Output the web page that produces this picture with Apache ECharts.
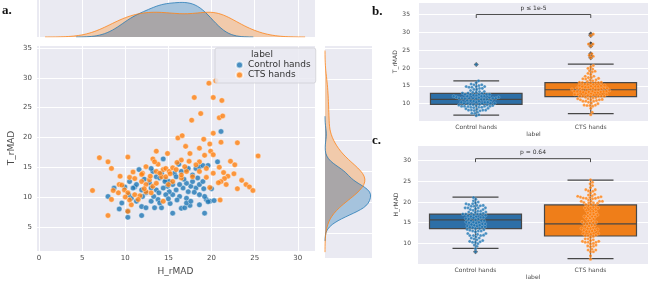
<!DOCTYPE html>
<html>
<head>
<meta charset="utf-8">
<script src="https://cdn.jsdelivr.net/npm/echarts@6/dist/echarts.min.js"></script>
<style>
html, body { margin: 0; padding: 0; background: #fff; }
#chart { width: 650px; height: 281px; }
</style>
</head>
<body>
<div id="chart"></div>
<script>
const groups = ['Control hands', 'CTS hands'];

// [H_rMAD, T_rMAD] per hand
const ctrlPts = [
  [8.7, 11.5], [8.0, 10.1], [9.6, 9.0], [9.3, 8.0], [10.3, 7.6], [10.3, 6.6], [9.95, 11.7], [11.1, 11.7],
  [11.9, 6.9], [11.9, 8.4], [12.4, 8.2], [13.4, 8.2], [14.2, 8.2], [13.0, 9.3], [13.8, 9.6], [15.5, 7.3],
  [16.5, 8.1], [16.9, 8.2], [17.5, 8.6], [19.2, 7.3], [18.6, 8.7], [19.4, 9.6], [19.8, 9.3], [20.3, 9.4],
  [19.2, 10.1], [18.6, 10.4], [17.1, 9.8], [16.3, 10.1], [15.5, 10.4], [15.1, 10.9], [15.9, 11.2], [16.7, 11.5],
  [17.3, 10.9], [17.6, 11.8], [18.2, 11.5], [18.6, 12.1], [19.0, 12.6], [17.8, 12.6], [17.1, 12.3], [16.3, 12.1],
  [15.5, 12.1], [14.9, 11.8], [14.4, 11.5], [13.6, 11.2], [13.0, 11.5], [12.4, 10.7], [11.9, 11.2], [11.3, 12.1],
  [10.9, 11.5], [10.5, 12.6], [12.0, 10.1], [11.3, 9.3], [10.7, 9.8], [13.6, 13.4], [14.0, 13.2], [13.2, 14.3],
  [13.0, 14.8], [14.2, 14.0], [14.7, 12.9], [15.1, 12.6], [15.7, 14.0], [16.5, 14.3], [17.1, 14.6], [17.3, 14.8],
  [17.8, 13.7], [18.2, 14.8], [18.6, 15.1], [19.0, 15.3], [19.6, 15.3], [20.7, 15.9], [14.4, 16.4], [14.6, 12.6],
  [15.9, 13.4], [17.1, 9.0], [17.6, 9.3], [14.7, 10.4], [13.9, 10.7], [21.1, 21.0], [19.1, 11.4], [20.0, 11.4],
  [19.6, 9.2], [12.8, 12.4], [16.0, 9.5], [18.0, 10.8], [15.2, 8.9], [12.2, 13.0], [16.8, 13.0], [14.0, 9.0],
  [10.4, 10.4], [11.6, 14.6], [16.2, 15.5], [18.4, 13.2], [13.3, 10.1], [15.0, 9.7]
];
const ctsPts = [
  [19.7, 29.1], [20.5, 29.5], [18.0, 26.7], [20.2, 26.7], [21.2, 26.2], [17.7, 22.9], [18.75, 24.0], [20.9, 23.3],
  [21.3, 23.6], [16.1, 19.9], [16.6, 20.3], [20.2, 20.7], [19.1, 19.7], [17.0, 18.5], [19.8, 18.9], [21.1, 19.2],
  [23.0, 19.1], [18.6, 18.2], [19.9, 17.7], [25.4, 16.9], [20.2, 17.1], [19.2, 17.0], [17.5, 17.3], [13.6, 17.7],
  [10.3, 16.7], [7.0, 16.6], [8.0, 15.9], [13.2, 16.4], [14.9, 17.3], [16.5, 16.2], [18.6, 15.9], [22.2, 16.0],
  [22.7, 15.4], [21.4, 14.1], [20.2, 14.0], [21.9, 13.5], [21.5, 13.1], [21.1, 12.6], [20.8, 12.4], [23.5, 12.8],
  [24.0, 12.1], [24.4, 11.7], [24.8, 11.1], [21.7, 12.1], [23.0, 11.4], [19.8, 11.6], [21.0, 9.5], [8.4, 14.8],
  [10.9, 14.2], [10.5, 13.3], [11.1, 13.1], [12.0, 14.0], [12.4, 15.1], [13.6, 14.3], [14.4, 14.6], [14.7, 14.8],
  [15.1, 14.3], [15.5, 14.9], [15.9, 14.6], [14.2, 13.4], [12.8, 12.9], [11.9, 12.6], [12.4, 12.1], [13.2, 11.8],
  [13.6, 12.3], [9.3, 12.1], [9.9, 11.2], [9.2, 10.7], [10.3, 10.7], [11.1, 10.4], [11.7, 10.2], [12.4, 10.9],
  [13.0, 10.7], [11.5, 9.6], [10.7, 8.7], [8.4, 9.6], [6.2, 11.1], [8.0, 6.9], [10.3, 7.6], [14.4, 9.3],
  [15.5, 12.6], [16.5, 13.2], [17.1, 14.3], [17.8, 13.4], [18.6, 14.3], [19.4, 14.8], [18.2, 15.4], [13.8, 15.5],
  [16.9, 15.1], [16.5, 13.7], [14.7, 13.4], [9.6, 12.0], [8.6, 11.1], [10.5, 9.5], [11.9, 13.8], [14.0, 14.0],
  [15.2, 13.9], [12.9, 13.5], [10.0, 10.0], [12.2, 11.4], [16.0, 15.8], [15.0, 12.1], [17.4, 16.0], [20.9, 15.0],
  [22.6, 13.9], [9.4, 13.5], [13.4, 15.9], [19.4, 13.3]
];

const boxT = [[6.8, 9.8, 11.2, 12.9, 16.4], [7.2, 12.0, 13.9, 15.9, 21.1]];
const boxH = [[8.8, 13.6, 15.7, 17.1, 21.2], [6.3, 11.8, 14.75, 19.3, 25.3]];
const pText = ['p ≤ 1e-5', 'p = 0.64'];
const pLevel = [35, 30.5];

const BLUE = '#1f77b4', ORANGE = '#ff7f0e';
const BOXCOL = ['#2d6fa7', '#ef7e19'];
const BG = '#eaeaf2';
const FONT = 'DejaVu Sans';
const TXT = '#4a4a4a';

// layout
const gMain = { left: 36, top: 45, width: 279, height: 213 };
const gTop = { left: 36, top: 0, width: 279, height: 37 };
const gRight = { left: 325, top: 45, width: 47, height: 213 };
const gB = { left: 419, top: 2, width: 229, height: 119.5 };
const gC = { left: 418, top: 145, width: 230, height: 121 };
const xRange = [-0.35, 32], yRange = [0.95, 35.5];
const bRange = [5, 38.5], cRange = [5, 33.8];

function gaussKde(vals, weight, grid) {
  const n = vals.length;
  const mean = vals.reduce((a, b) => a + b, 0) / n;
  const sd = Math.sqrt(vals.reduce((a, v) => a + (v - mean) ** 2, 0) / (n - 1));
  const h = sd * Math.pow(n, -0.2);
  const lo = Math.min(...vals) - 3 * h, hi = Math.max(...vals) + 3 * h;
  const dens = grid.map(g => weight * vals.reduce((a, v) => a + Math.exp(-0.5 * ((g - v) / h) ** 2), 0) / (n * h * Math.sqrt(2 * Math.PI)));
  return { dens, lo, hi };
}

const evalGrid = [];
for (let g = -2; g <= 40; g += 0.15) evalGrid.push(+g.toFixed(2));
const N = ctrlPts.length + ctsPts.length;
const kdeX = [ctrlPts, ctsPts].map(p => gaussKde(p.map(d => d[0]), p.length / N, evalGrid));
const kdeY = [ctrlPts, ctsPts].map(p => gaussKde(p.map(d => d[1]), p.length / N, evalGrid));
const topMax = Math.max(...kdeX[0].dens, ...kdeX[1].dens);
const rightMax = Math.max(...kdeY[0].dens, ...kdeY[1].dens);

function curve(k, flip) {
  const pts = [];
  evalGrid.forEach((g, i) => {
    if (g >= k.lo && g <= k.hi) pts.push(flip ? [k.dens[i], g] : [g, k.dens[i]]);
  });
  return pts;
}
function overlap(ks, flip) {
  return evalGrid.map((g, i) => {
    const d = Math.min(ks[0].dens[i], ks[1].dens[i]);
    return flip ? [d, g] : [g, d];
  });
}
function closePoly(pts, flip) {
  const a = pts[0], b = pts[pts.length - 1];
  return flip ? [[0, a[1]], ...pts, [0, b[1]]] : [[a[0], 0], ...pts, [b[0], 0]];
}
function areaSeries(xi, yi, pts, flip, fill, z) {
  const poly = closePoly(pts, flip);
  return {
    type: 'custom', xAxisIndex: xi, yAxisIndex: yi, silent: true, clip: true, z: z,
    data: [[0, 0]],
    renderItem: (params, api) => ({
      type: 'polygon',
      shape: { points: poly.map(p => api.coord(p)) },
      style: { fill: fill }
    })
  };
}
function lineSeries(xi, yi, pts, color) {
  return {
    type: 'line', xAxisIndex: xi, yAxisIndex: yi, data: pts, showSymbol: false, silent: true,
    lineStyle: { color: color, width: 1, opacity: 0.75 }, z: 4
  };
}

// beeswarm offsets (in category units) from values, done in pixel space
function swarm(vals, pxPerY, pxPerX, d) {
  const order = vals.map((v, i) => i).sort((a, b) => vals[a] - vals[b]);
  const placed = [];
  const off = new Array(vals.length);
  order.forEach(i => {
    const y = vals[i] * pxPerY;
    const near = placed.filter(p => Math.abs(p[1] - y) < d);
    const cands = [0];
    near.forEach(p => {
      const dx = Math.sqrt(d * d - (p[1] - y) ** 2);
      cands.push(p[0] + dx, p[0] - dx);
    });
    cands.sort((a, b) => Math.abs(a) - Math.abs(b));
    const x = cands.find(c => near.every(p => (p[0] - c) ** 2 + (p[1] - y) ** 2 >= d * d - 1e-6));
    placed.push([x, y]);
    off[i] = x / pxPerX;
  });
  return off;
}

function swarmSeries(xi, yi, grid, range, dim) {
  const ppy = grid.height / (range[1] - range[0]);
  const ppx = grid.width / 2;
  return [ctrlPts, ctsPts].map((pts, gi) => {
    const vals = pts.map(p => p[dim]);
    const off = swarm(vals, ppy, ppx, 2.9);
    return {
      name: groups[gi], type: 'scatter', xAxisIndex: xi, yAxisIndex: yi, z: 4, silent: true,
      symbolSize: 3.1,
      itemStyle: { color: gi ? ORANGE : BLUE, borderColor: 'rgba(255,255,255,0.6)', borderWidth: 0.4 },
      data: vals.map((v, i) => [gi + off[i], v])
    };
  });
}

function flierSeries(xi, yi, stats, dim) {
  const data = [];
  [ctrlPts, ctsPts].forEach((pts, gi) => {
    pts.forEach(p => {
      const v = p[dim];
      if (v > stats[gi][4] + 0.5 || v < stats[gi][0] - 0.5) data.push([gi, v]);
    });
  });
  return {
    type: 'scatter', xAxisIndex: xi, yAxisIndex: yi, z: 3, silent: true,
    symbol: 'diamond', symbolSize: 5, itemStyle: { color: '#3a3a3a', opacity: 0.85 }, data: data
  };
}

function boxSeries(xi, yi, stats) {
  return {
    type: 'custom', xAxisIndex: xi, yAxisIndex: yi, z: 2, silent: true,
    encode: { x: 0, y: [1, 2, 3, 4, 5] },
    data: stats.map((s, i) => [i, ...s]),
    renderItem: (params, api) => {
      const i = api.value(0);
      const ys = [1, 2, 3, 4, 5].map(k => api.coord([i, api.value(k)])[1]);
      const cx = api.coord([i, 0])[0];
      const hb = api.size([0.4, 0])[0];
      const hc = hb / 2;
      const edge = { stroke: '#474747', lineWidth: 1.2 };
      return {
        type: 'group',
        children: [
          { type: 'line', shape: { x1: cx, y1: ys[0], x2: cx, y2: ys[1] }, style: edge },
          { type: 'line', shape: { x1: cx, y1: ys[3], x2: cx, y2: ys[4] }, style: edge },
          { type: 'line', shape: { x1: cx - hc, y1: ys[0], x2: cx + hc, y2: ys[0] }, style: edge },
          { type: 'line', shape: { x1: cx - hc, y1: ys[4], x2: cx + hc, y2: ys[4] }, style: edge },
          { type: 'rect', shape: { x: cx - hb, y: ys[3], width: 2 * hb, height: ys[1] - ys[3] },
            style: { fill: BOXCOL[i], stroke: '#474747', lineWidth: 1.2 } },
          { type: 'line', shape: { x1: cx - hb, y1: ys[2], x2: cx + hb, y2: ys[2] }, style: edge }
        ]
      };
    }
  };
}

function bracketSeries(xi, yi, level, text) {
  return {
    type: 'custom', xAxisIndex: xi, yAxisIndex: yi, z: 5, silent: true,
    data: [[0, level]],
    renderItem: (params, api) => {
      const a = api.coord([0, level]), b = api.coord([1, level]);
      const drop = 3.5;
      return {
        type: 'group',
        children: [
          { type: 'polyline', shape: { points: [[a[0], a[1] + drop], a, b, [b[0], b[1] + drop]] },
            style: { stroke: '#4d4d4d', lineWidth: 1, fill: null } },
          { type: 'text', style: { text: text, x: (a[0] + b[0]) / 2, y: a[1] - 3, textAlign: 'center',
            textVerticalAlign: 'bottom', font: '6px ' + FONT, fill: '#333' } }
        ]
      };
    }
  };
}

const tickFmt = v => (Math.abs(v % 5) < 1e-6 && v > -0.01 ? String(v) : '');
const white = { lineStyle: { color: '#fff', width: 1 } };
const noAxis = { axisLine: { show: false }, axisTick: { show: false } };

const option = {
  animation: false,
  backgroundColor: '#fff',
  textStyle: { fontFamily: FONT },
  grid: [gMain, gTop, gRight, gB, gC].map(g => Object.assign({ show: true, backgroundColor: BG, borderWidth: 0, containLabel: false }, g)),
  legend: {
    data: groups, orient: 'vertical', left: 215, top: 48,
    icon: 'circle', itemWidth: 7, itemHeight: 7, itemGap: 0,
    padding: [12, 5, 3, 20],
    backgroundColor: 'rgba(234,234,242,0.85)', borderColor: '#cfcfd6', borderWidth: 0.8, borderRadius: 2,
    textStyle: { fontSize: 9, lineHeight: 10, color: '#333', fontFamily: FONT },
    selectedMode: false
  },
  xAxis: [
    Object.assign({ type: 'value', gridIndex: 0, min: xRange[0], max: xRange[1], splitNumber: 6,
      name: 'H_rMAD', nameLocation: 'middle', nameGap: 16,
      nameTextStyle: { fontSize: 9, color: TXT, fontFamily: FONT },
      axisLabel: { fontSize: 7, color: TXT, margin: 4, formatter: tickFmt, showMaxLabel: false },
      splitLine: white }, noAxis),
    Object.assign({ type: 'value', gridIndex: 1, min: xRange[0], max: xRange[1], splitNumber: 6,
      axisLabel: { show: false }, splitLine: white }, noAxis),
    Object.assign({ type: 'value', gridIndex: 2, min: 0, max: rightMax * 1.03,
      axisLabel: { show: false }, splitLine: { show: false } }, noAxis),
    Object.assign({ type: 'category', gridIndex: 3, data: groups, name: 'label', nameLocation: 'middle', nameGap: 10,
      nameTextStyle: { fontSize: 6, color: TXT, fontFamily: FONT },
      axisLabel: { fontSize: 6, color: TXT, margin: 3 }, splitLine: { show: false } }, noAxis),
    { type: 'value', gridIndex: 3, min: -0.5, max: 1.5, show: false, splitLine: { show: false } },
    Object.assign({ type: 'category', gridIndex: 4, data: groups, name: 'label', nameLocation: 'middle', nameGap: 9,
      nameTextStyle: { fontSize: 6, color: TXT, fontFamily: FONT },
      axisLabel: { fontSize: 6, color: TXT, margin: 3 }, splitLine: { show: false } }, noAxis),
    { type: 'value', gridIndex: 4, min: -0.5, max: 1.5, show: false, splitLine: { show: false } }
  ],
  yAxis: [
    Object.assign({ type: 'value', gridIndex: 0, min: yRange[0], max: yRange[1], splitNumber: 7,
      name: 'T_rMAD', nameLocation: 'middle', nameGap: 20,
      nameTextStyle: { fontSize: 9, color: TXT, fontFamily: FONT },
      axisLabel: { fontSize: 7, color: TXT, margin: 4, formatter: tickFmt, showMinLabel: false, showMaxLabel: false },
      splitLine: white }, noAxis),
    Object.assign({ type: 'value', gridIndex: 1, min: 0, max: topMax * 1.07,
      axisLabel: { show: false }, splitLine: { show: false } }, noAxis),
    Object.assign({ type: 'value', gridIndex: 2, min: yRange[0], max: yRange[1], splitNumber: 7,
      axisLabel: { show: false }, splitLine: white }, noAxis),
    Object.assign({ type: 'value', gridIndex: 3, min: bRange[0], max: bRange[1], interval: 5,
      name: 'T_rMAD', nameLocation: 'middle', nameGap: 17,
      nameTextStyle: { fontSize: 6, color: TXT, fontFamily: FONT },
      axisLabel: { fontSize: 6, color: TXT, margin: 9, formatter: v => (v >= 10 && v % 5 === 0 ? String(v) : '') },
      splitLine: white }, noAxis),
    Object.assign({ type: 'value', gridIndex: 4, min: cRange[0], max: cRange[1], interval: 5,
      name: 'H_rMAD', nameLocation: 'middle', nameGap: 17,
      nameTextStyle: { fontSize: 6, color: TXT, fontFamily: FONT },
      axisLabel: { fontSize: 6, color: TXT, margin: 7, formatter: v => (v >= 10 && v % 5 === 0 ? String(v) : '') },
      splitLine: white }, noAxis)
  ],
  graphic: [
    { type: 'text', x: 2, y: 4, z: 100, style: { text: 'a.', font: 'bold 13px "Liberation Serif"', fill: '#111' } },
    { type: 'text', x: 372, y: 5, z: 100, style: { text: 'b.', font: 'bold 13px "Liberation Serif"', fill: '#111' } },
    { type: 'text', x: 372, y: 134, z: 100, style: { text: 'c.', font: 'bold 13px "Liberation Serif"', fill: '#111' } },
    { type: 'text', x: 262, y: 55, z: 100, style: { text: 'label', font: '9px ' + FONT, fill: '#333', textAlign: 'center', textVerticalAlign: 'middle' } }
  ],
  series: [
    // panel a scatter
    {
      name: groups[0], type: 'scatter', xAxisIndex: 0, yAxisIndex: 0, symbolSize: 5.5, z: 3,
      itemStyle: { color: BLUE, borderColor: 'rgba(255,255,255,0.8)', borderWidth: 0.6 },
      data: ctrlPts
    },
    {
      name: groups[1], type: 'scatter', xAxisIndex: 0, yAxisIndex: 0, symbolSize: 5.5, z: 3,
      itemStyle: { color: ORANGE, borderColor: 'rgba(255,255,255,0.8)', borderWidth: 0.6 },
      data: ctsPts
    },
    // top marginal kde
    areaSeries(1, 1, curve(kdeX[0], false), false, '#a5c3dd', 1),
    areaSeries(1, 1, curve(kdeX[1], false), false, '#f1caab', 1),
    areaSeries(1, 1, overlap(kdeX, false), false, '#a9a6a8', 2),
    lineSeries(1, 1, curve(kdeX[0], false), BLUE),
    lineSeries(1, 1, curve(kdeX[1], false), ORANGE),
    // right marginal kde
    areaSeries(2, 2, curve(kdeY[0], true), true, '#a5c3dd', 1),
    areaSeries(2, 2, curve(kdeY[1], true), true, '#f1caab', 1),
    areaSeries(2, 2, overlap(kdeY, true), true, '#a9a6a8', 2),
    lineSeries(2, 2, curve(kdeY[0], true), BLUE),
    lineSeries(2, 2, curve(kdeY[1], true), ORANGE),
    // panel b
    boxSeries(4, 3, boxT),
    flierSeries(4, 3, boxT, 1),
    ...swarmSeries(4, 3, gB, bRange, 1),
    bracketSeries(4, 3, pLevel[0], pText[0]),
    // panel c
    boxSeries(6, 4, boxH),
    flierSeries(6, 4, boxH, 0),
    ...swarmSeries(6, 4, gC, cRange, 0),
    bracketSeries(6, 4, pLevel[1], pText[1])
  ]
};

const chart = echarts.init(document.getElementById('chart'));
chart.setOption(option);
</script>
</body>
</html>
